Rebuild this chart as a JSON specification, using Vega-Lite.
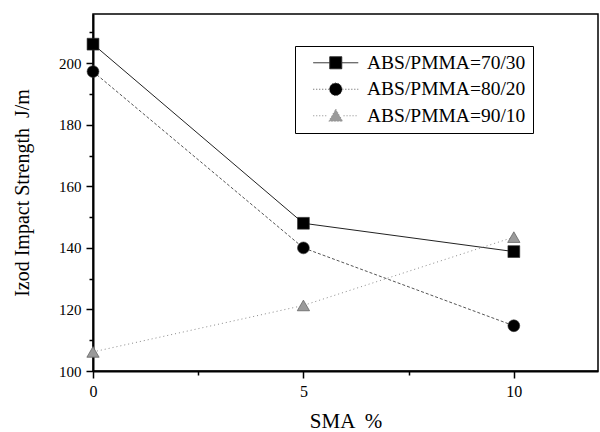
{
  "$schema": "https://vega.github.io/schema/vega-lite/v6.json",
  "width": 505,
  "height": 357,
  "autosize": {"type": "none"},
  "padding": {"left": 93, "top": 14, "right": 2, "bottom": 61},
  "background": "white",
  "config": {
    "view": {"stroke": "black", "strokeWidth": 1.5},
    "font": "Liberation Serif",
    "legend": {
      "orient": "none", "legendX": 202, "legendY": 32,
      "strokeColor": "black", "fillColor": "white", "padding": 7,
      "labelFont": "Liberation Serif", "labelFontSize": 19.5, "labelColor": "black", "labelLimit": 300,
      "symbolSize": 144, "symbolOffset": 24, "labelOffset": 21.5, "rowPadding": 5.5,
      "symbolStrokeWidth": 1, "symbolOpacity": 1
    }
  },
  "data": {"values": [
    {"sma": 0, "strength": 206.2, "series": "ABS/PMMA=70/30"},
    {"sma": 5, "strength": 148, "series": "ABS/PMMA=70/30"},
    {"sma": 10, "strength": 138.8, "series": "ABS/PMMA=70/30"},
    {"sma": 0, "strength": 197.3, "series": "ABS/PMMA=80/20"},
    {"sma": 5, "strength": 140, "series": "ABS/PMMA=80/20"},
    {"sma": 10, "strength": 114.7, "series": "ABS/PMMA=80/20"},
    {"sma": 0, "strength": 106.2, "series": "ABS/PMMA=90/10"},
    {"sma": 5, "strength": 121.3, "series": "ABS/PMMA=90/10"},
    {"sma": 10, "strength": 143.5, "series": "ABS/PMMA=90/10"}
  ]},
  "encoding": {
    "x": {
      "field": "sma", "type": "quantitative",
      "scale": {"domain": [0, 12], "nice": false, "zero": false},
      "axis": {
        "values": [0, 2.5, 5, 7.5, 10],
        "labelExpr": "datum.value % 5 === 0 ? datum.label : ''",
        "tickSize": {"condition": {"test": "datum.value % 5 === 0", "value": 7}, "value": 4},
        "grid": false,
        "domainColor": "black", "domainWidth": 2,
        "tickColor": "black", "tickWidth": 1.5,
        "labelFont": "Liberation Serif", "labelFontSize": 16, "labelColor": "black", "labelPadding": 5,
        "labelFlush": false,
        "title": "SMA \u00a0%",
        "titleFont": "Liberation Serif", "titleFontSize": 21, "titleFontWeight": "normal", "titleColor": "black", "titlePadding": 11
      }
    },
    "y": {
      "field": "strength", "type": "quantitative",
      "scale": {"domain": [100, 216], "nice": false, "zero": false},
      "axis": {
        "values": [100, 110, 120, 130, 140, 150, 160, 170, 180, 190, 200, 210],
        "labelExpr": "datum.value % 20 === 0 ? datum.label : ''",
        "tickSize": {"condition": {"test": "datum.value % 20 === 0", "value": 7}, "value": 4},
        "grid": false,
        "domainColor": "black", "domainWidth": 2,
        "tickColor": "black", "tickWidth": 1.5,
        "labelFont": "Liberation Serif", "labelFontSize": 15, "labelColor": "black", "labelPadding": 5,
        "labelFlush": false,
        "title": "Izod Impact Strength \u00a0J/m",
        "titleFont": "Liberation Serif", "titleFontSize": 20, "titleFontWeight": "normal", "titleColor": "black", "titlePadding": 26
      }
    }
  },
  "layer": [
    {
      "mark": {"type": "point", "filled": true, "fillOpacity": 0, "strokeOpacity": 0, "size": 10},
      "encoding": {
        "shape": {
          "field": "series", "type": "nominal",
          "scale": {"range": [
            "M-3.75,0H-1M1,0H3.75M-1,-1H1V1H-1Z",
            "M-3.75,0H-1.1M1.1,0H3.75M-1.05,0A1.05,1.05,0,1,1,1.05,0A1.05,1.05,0,1,1,-1.05,0Z",
            "M-3.75,0H-1.3M1.3,0H3.75M0,-1.1L1.15,0.9H-1.15Z"
          ]},
          "legend": {"title": null}
        },
        "fill": {
          "field": "series", "type": "nominal",
          "scale": {"range": ["#000000", "#000000", "#9a9a9a"]},
          "legend": {"title": null}
        },
        "stroke": {
          "field": "series", "type": "nominal",
          "scale": {"range": ["#222222", "#555555", "#888888"]},
          "legend": {"title": null}
        },
        "strokeDash": {
          "field": "series", "type": "nominal",
          "scale": {"range": [[1, 0], [1, 2], [1, 2]]},
          "legend": {"title": null}
        }
      }
    },
    {
      "transform": [{"filter": "datum.series === 'ABS/PMMA=70/30'"}],
      "mark": {"type": "line", "strokeWidth": 1, "stroke": "#222222"},
      "encoding": {}
    },
    {
      "transform": [{"filter": "datum.series === 'ABS/PMMA=80/20'"}],
      "mark": {"type": "line", "strokeWidth": 1, "stroke": "#555555", "strokeDash": [3, 2]},
      "encoding": {}
    },
    {
      "transform": [{"filter": "datum.series === 'ABS/PMMA=90/10'"}],
      "mark": {"type": "line", "strokeWidth": 1, "stroke": "#8a8a8a", "strokeDash": [1, 3]},
      "encoding": {}
    },
    {
      "transform": [{"filter": "datum.series === 'ABS/PMMA=70/30'"}],
      "mark": {"type": "point", "shape": "square", "filled": true, "opacity": 1, "size": 140, "fill": "#000000", "stroke": "#333333", "strokeWidth": 0.6}
    },
    {
      "transform": [{"filter": "datum.series === 'ABS/PMMA=80/20'"}],
      "mark": {"type": "point", "shape": "circle", "filled": true, "opacity": 1, "size": 140, "fill": "#000000", "stroke": "#333333", "strokeWidth": 0.6}
    },
    {
      "transform": [{"filter": "datum.series === 'ABS/PMMA=90/10'"}],
      "mark": {"type": "point", "shape": "triangle-up", "filled": true, "opacity": 1, "size": 150, "fill": "#9a9a9a", "stroke": "#666666", "strokeWidth": 0.8}
    }
  ]
}
